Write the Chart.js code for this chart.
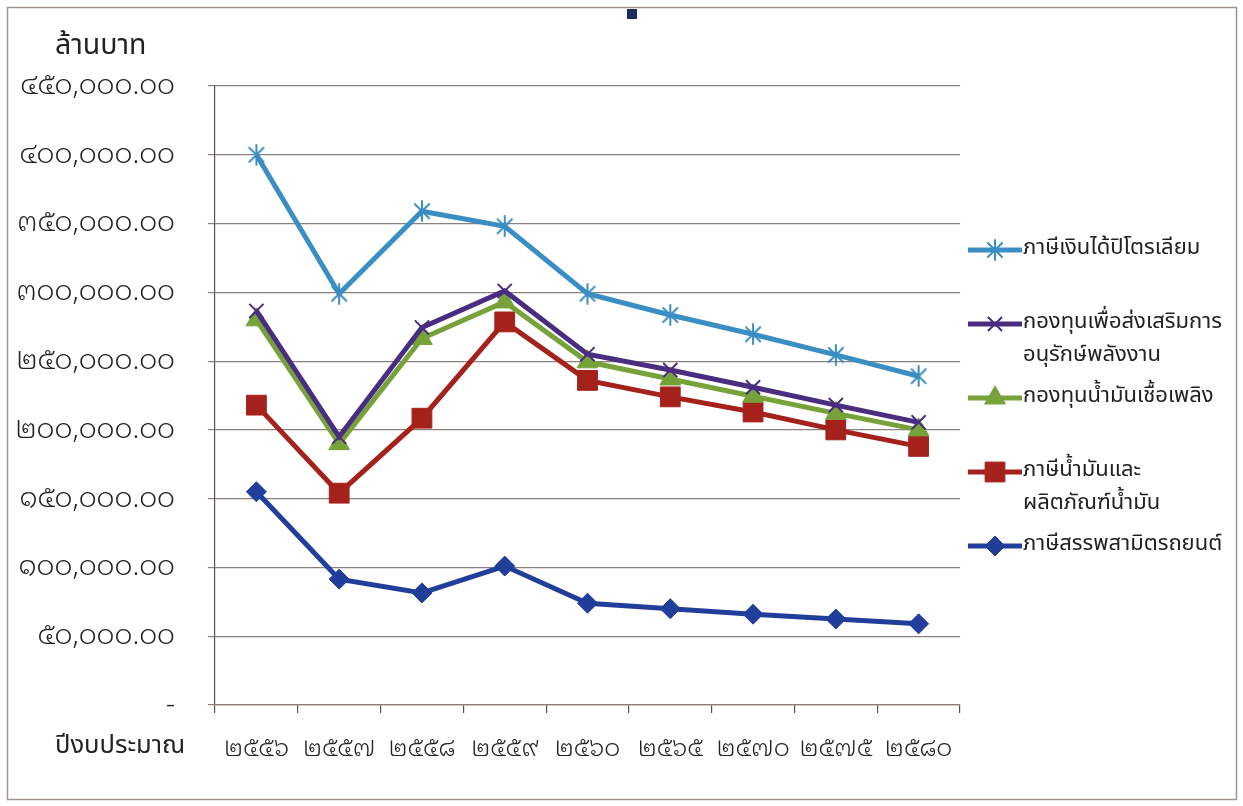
<!DOCTYPE html>
<html>
<head>
<meta charset="utf-8">
<script src="https://cdn.jsdelivr.net/npm/chart.js@4.4.1/dist/chart.umd.min.js"></script>
<style>
  html, body { margin: 0; padding: 0; background: #ffffff; }
  #wrap { width: 1243px; height: 806px; position: relative; }
</style>
</head>
<body>
<div id="wrap"><canvas id="c" width="1243" height="806"></canvas></div>
<script>
// Fiscal years (Thai Buddhist era, Thai digits)
const years = ['๒๕๕๖', '๒๕๕๗', '๒๕๕๘', '๒๕๕๙', '๒๕๖๐', '๒๕๖๕', '๒๕๗๐', '๒๕๗๕', '๒๕๘๐'];

// Revenue series, million baht
const petroleumIncomeTax      = [400000, 299000, 359000, 348000, 299000, 283500, 269500, 254500, 239000];
const energyConservationFund  = [286500, 195000, 274500, 301000, 255000, 243500, 231000, 218000, 205500];
const oilFuelFund             = [280000, 190000, 266500, 293000, 249500, 237000, 224500, 212000, 200000];
const oilProductTax           = [218000, 154000, 208500, 278500, 236000, 224000, 213000, 200000, 188000];
const vehicleExciseTax        = [155000,  91500,  81500, 101000,  74000,  70000,  66000,  62500,  59000];

// Series names (legend lines)
const seriesNames = [
  ['ภาษีเงินได้ปิโตรเลียม'],
  ['กองทุนเพื่อส่งเสริมการ', 'อนุรักษ์พลังงาน'],
  ['กองทุนน้ำมันเชื้อเพลิง'],
  ['ภาษีน้ำมันและ', 'ผลิตภัณฑ์น้ำมัน'],
  ['ภาษีสรรพสามิตรถยนต์']
];

// Value axis tick labels, from 0 upward
const yTickLabels = ['-', '๕๐,๐๐๐.๐๐', '๑๐๐,๐๐๐.๐๐', '๑๕๐,๐๐๐.๐๐', '๒๐๐,๐๐๐.๐๐',
  '๒๕๐,๐๐๐.๐๐', '๓๐๐,๐๐๐.๐๐', '๓๕๐,๐๐๐.๐๐', '๔๐๐,๐๐๐.๐๐', '๔๕๐,๐๐๐.๐๐'];

const yAxisTitle = 'ล้านบาท';
const xAxisTitle = 'ปีงบประมาณ';

const FONT = "'Noto Sans Thai Looped', 'Noto Sans Thai', 'Noto Sans', 'DejaVu Sans', sans-serif";
const TEXT_FONT = "'Noto Sans Thai', 'Noto Sans', 'DejaVu Sans', sans-serif";

// Asterisk marker (vertical bar plus an X)
function makeAsterisk(color, size, lw) {
  const cv = document.createElement('canvas');
  cv.width = size; cv.height = size;
  const g = cv.getContext('2d');
  const c = size / 2, r = size / 2 - 1;
  g.strokeStyle = color; g.lineWidth = lw; g.lineCap = 'round';
  g.beginPath();
  g.moveTo(c, c - r); g.lineTo(c, c + r);
  const d = r * Math.SQRT1_2;
  g.moveTo(c - d, c - d); g.lineTo(c + d, c + d);
  g.moveTo(c + d, c - d); g.lineTo(c - d, c + d);
  g.stroke();
  return cv;
}

const COLORS = {
  lightBlue: '#3b8ec4',
  purple: '#4a2c80',
  green: '#77a23a',
  red: '#a5221c',
  navy: '#213e9a'
};

const starIcon = makeAsterisk(COLORS.lightBlue, 22, 2);

const datasets = [
  { label: seriesNames[0].join(''), data: petroleumIncomeTax, borderColor: COLORS.lightBlue,
    backgroundColor: COLORS.lightBlue, pointStyle: starIcon, pointRadius: 11 },
  { label: seriesNames[1].join(''), data: energyConservationFund, borderColor: COLORS.purple,
    backgroundColor: COLORS.purple, pointStyle: 'crossRot', pointRadius: 10, pointBorderWidth: 2 },
  { label: seriesNames[2].join(''), data: oilFuelFund, borderColor: COLORS.green,
    backgroundColor: COLORS.green, pointStyle: 'triangle', pointRadius: 12 },
  { label: seriesNames[3].join(''), data: oilProductTax, borderColor: COLORS.red,
    backgroundColor: COLORS.red, pointStyle: 'rect', pointRadius: 14 },
  { label: seriesNames[4].join(''), data: vehicleExciseTax, borderColor: COLORS.navy,
    backgroundColor: COLORS.navy, pointStyle: 'rectRot', pointRadius: 10 }
].map(d => Object.assign({ borderWidth: 5, tension: 0, pointBorderColor: d.borderColor,
  pointBorderWidth: d.pointBorderWidth || 1, pointHoverRadius: d.pointRadius }, d));

// Frame, axis titles, legend and the small mark at the top edge
const decorations = {
  id: 'decorations',
  beforeDraw(chart) {
    const ctx = chart.ctx;
    ctx.save();
    ctx.fillStyle = '#ffffff';
    ctx.fillRect(0, 0, chart.width, chart.height);
    ctx.restore();
  },
  afterDraw(chart) {
    const ctx = chart.ctx;
    const area = chart.chartArea;
    ctx.save();
    // outer frame
    ctx.strokeStyle = '#a0948f';
    ctx.lineWidth = 1.5;
    ctx.strokeRect(7.5, 7.5, 1229, 792);
    // small mark at the top edge
    ctx.fillStyle = '#1c2a5e';
    ctx.fillRect(627, 9, 10, 10);

    // axis titles
    ctx.fillStyle = '#222222';
    ctx.textBaseline = 'middle';
    ctx.textAlign = 'left';
    ctx.font = '28.5px ' + TEXT_FONT;
    ctx.fillText(yAxisTitle, 55, area.top - 38);
    ctx.font = '25.5px ' + TEXT_FONT;
    ctx.fillText(xAxisTitle, 55, area.bottom + 43);

    // legend
    const lx = 968, lineLen = 54, tx = 1023;
    let y = 250;
    ctx.font = '22px ' + TEXT_FONT;
    chart.data.datasets.forEach((ds, i) => {
      ctx.strokeStyle = ds.borderColor;
      ctx.lineWidth = 5;
      ctx.beginPath();
      ctx.moveTo(lx, y); ctx.lineTo(lx + lineLen, y);
      ctx.stroke();
      ctx.fillStyle = ds.backgroundColor;
      ctx.strokeStyle = ds.borderColor;
      ctx.lineWidth = ds.pointBorderWidth;
      Chart.helpers.drawPoint(ctx, {
        pointStyle: ds.pointStyle, radius: ds.pointRadius, rotation: 0,
        borderWidth: ds.pointBorderWidth
      }, lx + lineLen / 2, y);
      ctx.fillStyle = '#222222';
      seriesNames[i].forEach((line, k) => ctx.fillText(line, tx, y + k * 33));
      y += 74;
    });
    ctx.restore();
  }
};

new Chart(document.getElementById('c'), {
  type: 'line',
  data: { labels: years, datasets },
  options: {
    responsive: false,
    animation: false,
    devicePixelRatio: 1,
    layout: { padding: { top: 86, right: 283, left: 0, bottom: 0 } },
    plugins: { legend: { display: false }, tooltip: { enabled: false } },
    scales: {
      y: {
        min: 0, max: 450000,
        afterFit(s) { s.width = 215; },
        ticks: {
          stepSize: 50000,
          callback: (v, i) => yTickLabels[i],
          font: { family: FONT, size: 28, weight: 300 },
          color: '#222222',
          padding: 33
        },
        grid: { color: '#8c807c', lineWidth: 1.2, tickLength: 7 },
        border: { display: true, color: '#5c5250', width: 1.2 }
      },
      x: {
        offset: true,
        afterFit(s) { s.height = 101; },
        ticks: {
          font: { family: FONT, size: 25, weight: 300 },
          color: '#222222',
          padding: 21,
          maxRotation: 0,
          autoSkip: false
        },
        grid: { offset: true, drawOnChartArea: false, drawTicks: true, tickLength: 8, color: '#5c5250', lineWidth: 1.2 },
        border: { display: true, color: '#8c807c', width: 1.2 }
      }
    }
  },
  plugins: [decorations]
});
</script>
</body>
</html>
